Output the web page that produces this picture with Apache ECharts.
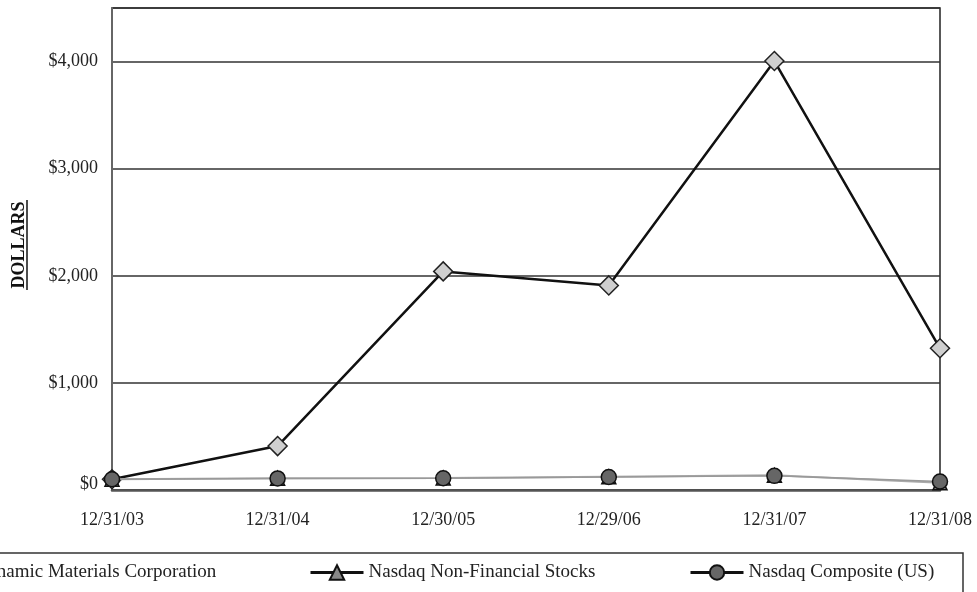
<!DOCTYPE html>
<html>
<head>
<meta charset="utf-8">
<style>
  html, body { margin: 0; padding: 0; background: #fff; }
  #chart { width: 977px; height: 592px; }
</style>
<script src="https://cdn.jsdelivr.net/npm/echarts@6/dist/echarts.min.js"></script>
</head>
<body>
<div id="chart"></div>
<script>
// Cumulative value of a $100 investment, year-end dates
const dates = ['12/31/03', '12/31/04', '12/30/05', '12/29/06', '12/31/07', '12/31/08'];
const dmcValues = [100, 410, 2041, 1910, 4005, 1323];
const nonFinancialValues = [100, 110, 112, 123, 137, 67];
const compositeValues = [100, 108, 110, 121, 132, 79];
const yTicks = [0, 1000, 2000, 3000, 4000];

const seriesNames = ['Dynamic Materials Corporation', 'Nasdaq Non-Financial Stocks', 'Nasdaq Composite (US)'];
const FONT = '"Liberation Serif", "Times New Roman", serif';

const chart = echarts.init(document.getElementById('chart'));

function legendAt(name, left) {
  return {
    data: [name],
    left: left,
    top: 563,
    itemWidth: 53,
    itemHeight: 18,
    itemGap: 0,
    padding: 0,
    selectedMode: false,
    textStyle: { fontFamily: FONT, fontSize: 19, color: '#222' },
    lineStyle: { color: '#111', width: 3 }
  };
}

chart.setOption({
  animation: false,
  backgroundColor: '#fff',
  grid: {
    left: 112, right: 37, top: 8, bottom: 102,
    show: true, borderColor: '#222', borderWidth: 1.5
  },
  legend: [
    legendAt(seriesNames[0], -86),
    legendAt(seriesNames[1], 309),
    legendAt(seriesNames[2], 689)
  ],
  xAxis: {
    type: 'category',
    data: dates,
    boundaryGap: false,
    axisLine: { lineStyle: { color: '#555', width: 2.5 } },
    axisTick: { show: false },
    axisLabel: { fontFamily: FONT, fontSize: 18, color: '#222', margin: 21 },
    splitLine: { show: false }
  },
  yAxis: {
    type: 'value',
    min: 0,
    max: 4500,
    interval: 1000,
    axisLine: { show: true, lineStyle: { color: '#666', width: 2 } },
    axisTick: { show: false },
    axisLabel: {
      fontFamily: FONT, fontSize: 18, color: '#222', margin: 14,
      formatter: v => {
        if (!yTicks.includes(v)) return '';
        const text = '$' + v.toLocaleString('en-US');
        return v === 0 ? '{zero|' + text + '}' : text;
      },
      rich: { zero: { fontFamily: FONT, fontSize: 18, color: '#222', padding: [0, 0, 12, 0] } }
    },
    splitLine: { lineStyle: { color: '#333', width: 1.5 } }
  },
  series: [
    {
      name: seriesNames[0],
      type: 'line',
      data: dmcValues,
      symbol: 'diamond',
      symbolSize: 19,
      lineStyle: { color: '#111', width: 2.5 },
      itemStyle: { color: '#cfcfcf', borderColor: '#222', borderWidth: 1.5 },
      z: 3
    },
    {
      name: seriesNames[1],
      type: 'line',
      data: nonFinancialValues,
      symbol: 'triangle',
      symbolSize: 14,
      lineStyle: { color: '#aaa', width: 2 },
      itemStyle: { color: '#888', borderColor: '#111', borderWidth: 1.5 },
      z: 4
    },
    {
      name: seriesNames[2],
      type: 'line',
      data: compositeValues,
      symbol: 'circle',
      symbolSize: 15,
      lineStyle: { color: '#999', width: 1.5 },
      itemStyle: { color: '#666', borderColor: '#111', borderWidth: 1.5 },
      z: 5
    }
  ],
  graphic: [
    {
      type: 'text',
      x: 19, y: 245,
      rotation: Math.PI / 2,
      style: {
        text: 'DOLLARS',
        font: 'bold 18px ' + FONT,
        fill: '#111',
        textAlign: 'center',
        textVerticalAlign: 'middle'
      }
    },
    {
      type: 'line',
      shape: { x1: 27, y1: 200, x2: 27, y2: 290 },
      style: { stroke: '#111', lineWidth: 1.5 }
    },
    {
      type: 'rect',
      shape: { x: -10, y: 553, width: 973, height: 60 },
      style: { fill: 'none', stroke: '#333', lineWidth: 1.5 },
      z: -1
    }
  ]
});
</script>
</body>
</html>
